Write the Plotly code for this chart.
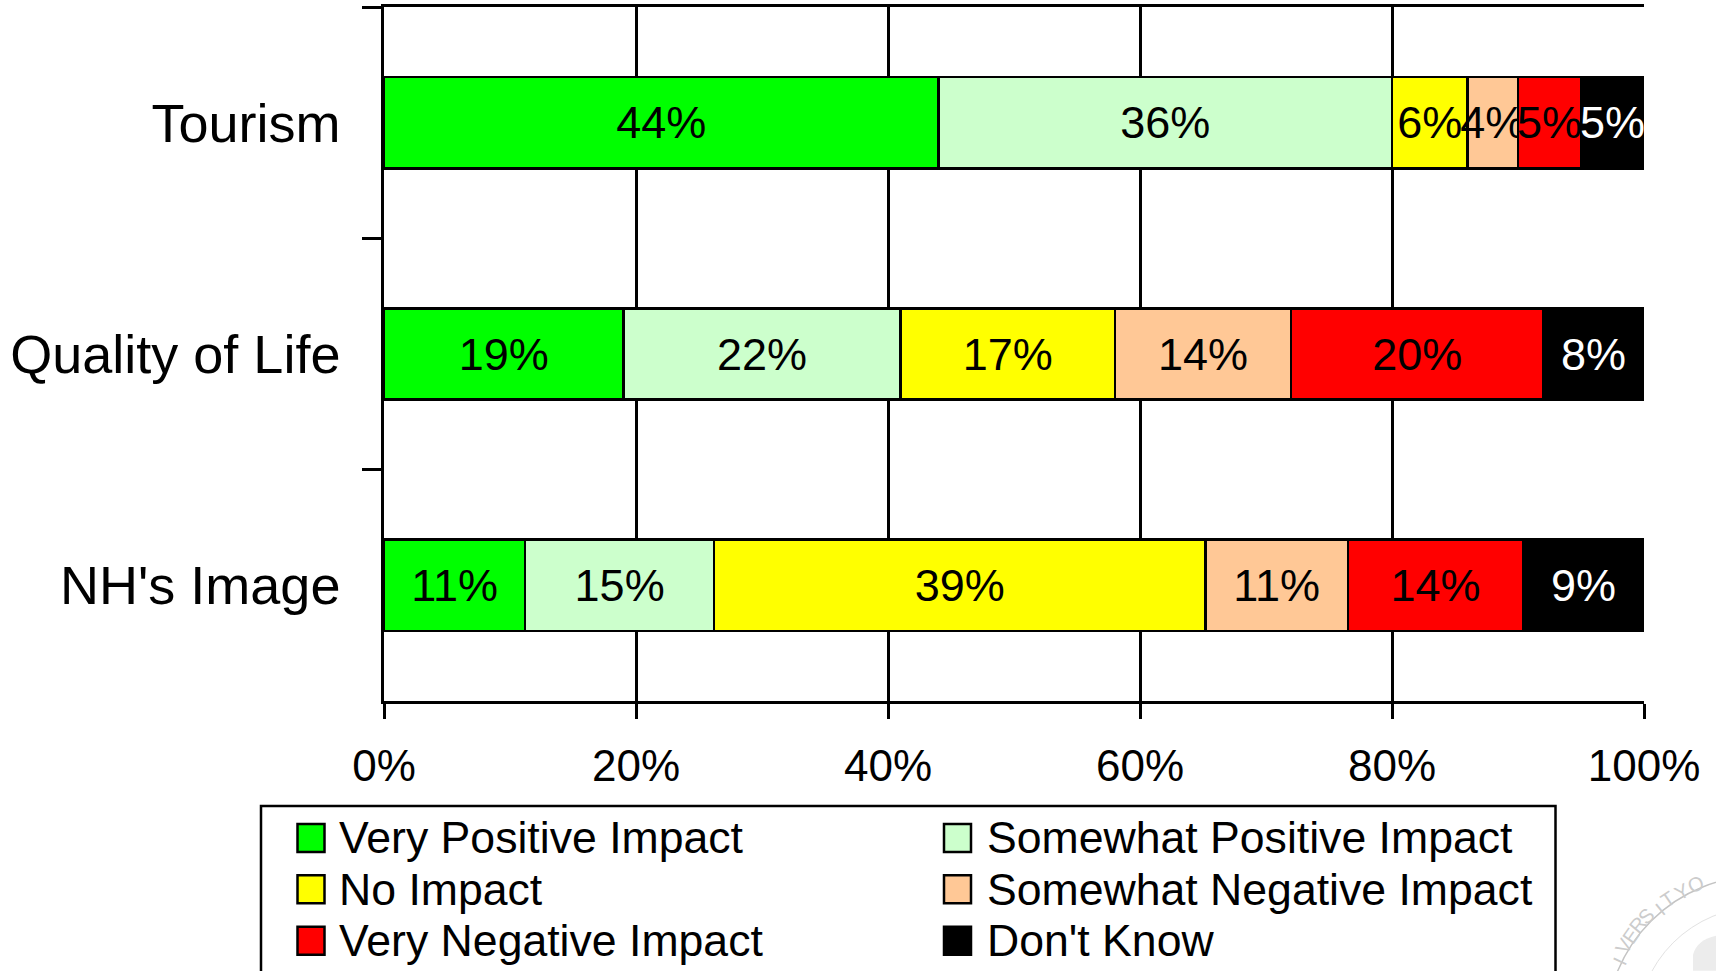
import math
import plotly.graph_objects as go

categories = ["Tourism", "Quality of Life", "NH's Image"]
series_names = ["Very Positive Impact", "Somewhat Positive Impact", "No Impact",
                "Somewhat Negative Impact", "Very Negative Impact", "Don't Know"]
very_positive = [44, 19, 11.2]
somewhat_positive = [36, 22, 15]
no_impact = [6, 17, 39]
somewhat_negative = [4, 14, 11.3]
very_negative = [5, 20, 13.9]
dont_know = [5, 8, 9.6]
very_positive_labels = ["44%", "19%", "11%"]
somewhat_positive_labels = ["36%", "22%", "15%"]
no_impact_labels = ["6%", "17%", "39%"]
somewhat_negative_labels = ["4%", "14%", "11%"]
very_negative_labels = ["5%", "20%", "14%"]
dont_know_labels = ["5%", "8%", "9%"]
x_ticks = [0, 20, 40, 60, 80, 100]
x_tick_labels = ["0%", "20%", "40%", "60%", "80%", "100%"]
colors = ["#00FF00", "#CCFFCC", "#FFFF00", "#FFC896", "#FF0000", "#000000"]
text_colors = ["black", "black", "black", "black", "black", "white"]
seal_letters = ["I", "V", "E", "R", "S", "I", "T", "Y", "O"]
seal_angles = [65, 60, 55, 50, 45, 39, 34, 28, 21]

W, H = 1716, 971
L, R, T, B = 384, 1644, 6.5, 701
FONT = "Liberation Sans"

def px(x):
    return (x - L) / (R - L)

def py(y):
    return (B - y) / (B - T)

values = [very_positive, somewhat_positive, no_impact, somewhat_negative, very_negative, dont_know]
labels = [very_positive_labels, somewhat_positive_labels, no_impact_labels,
          somewhat_negative_labels, very_negative_labels, dont_know_labels]

fig = go.Figure()
for name, vals, labs, col, tc in zip(series_names, values, labels, colors, text_colors):
    fig.add_trace(go.Bar(
        y=categories, x=vals, name=name, orientation="h", text=labs,
        textposition="inside", insidetextanchor="middle", textangle=0, constraintext="none",
        cliponaxis=False,
        textfont=dict(family=FONT, size=45, color=tc),
        marker=dict(color=col, line=dict(color="black", width=2.5)),
        showlegend=False, hoverinfo="skip"))

shapes = [dict(type="rect", xref="paper", yref="paper",
               x0=px(261), x1=px(1555.5), y0=py(1000), y1=py(806),
               line=dict(color="black", width=2.5), fillcolor="white")]
annotations = []
col_x = [297.5, 944]
row_y = [838, 889.5, 941]
for i, (name, col) in enumerate(zip(series_names, colors)):
    sx, sy = col_x[i % 2], row_y[i // 2]
    shapes.append(dict(type="rect", xref="paper", yref="paper",
                       x0=px(sx), x1=px(sx + 27), y0=py(sy + 14), y1=py(sy - 14),
                       line=dict(color="black", width=2.5), fillcolor=col))
    annotations.append(dict(xref="paper", yref="paper", text=name, showarrow=False,
                            x=px(sx + 39 + (1.5 if i % 2 else 0)), y=py(sy),
                            xanchor="left", yanchor="middle",
                            font=dict(family=FONT, size=44.6, color="black")))

# faint university seal in the lower right corner
cx, cy = 1760, 1030
for rad, width, color in [(154, 1.5, "#c4c4c4"), (123, 1, "#e2e2e2")]:
    shapes.append(dict(type="circle", xref="paper", yref="paper",
                       x0=px(cx - rad), x1=px(cx + rad), y0=py(cy + rad), y1=py(cy - rad),
                       line=dict(color=color, width=width)))
shapes.append(dict(type="path", xref="paper", yref="paper", line=dict(width=0), fillcolor="#ececec",
                   path=f"M {px(1693)} {py(971)} L {px(1693)} {py(955)} Q {px(1697)} {py(940)} {px(1716)} {py(936)} L {px(1716)} {py(971)} Z"))
for letter, ang in zip(seal_letters, seal_angles):
    a = math.radians(ang)
    annotations.append(dict(xref="paper", yref="paper", text=letter, showarrow=False,
                            x=px(cx - 139 * math.sin(a)), y=py(cy - 139 * math.cos(a)),
                            textangle=-ang, font=dict(family=FONT, size=20, color="#cccccc")))

fig.update_layout(
    width=W, height=H, barmode="stack", bargap=0.605,
    paper_bgcolor="white", plot_bgcolor="white", showlegend=False,
    margin=dict(l=L, r=W - R, t=T, b=H - B, autoexpand=False),
    font=dict(family=FONT, color="black"),
    shapes=shapes, annotations=annotations,
    xaxis=dict(range=[0, 100], tickvals=x_ticks, ticktext=x_tick_labels,
               showgrid=True, gridcolor="black", gridwidth=2.5, zeroline=False,
               showline=True, linecolor="black", linewidth=2.5, mirror=True,
               ticks="outside", ticklen=15, tickwidth=2.5, tickcolor="black",
               ticklabelstandoff=9, tickfont=dict(family=FONT, size=44, color="black")),
    yaxis=dict(autorange="reversed", tickson="boundaries", ticks="outside", ticklen=19,
               tickwidth=2.5, tickcolor="black", showgrid=False, zeroline=False,
               showline=True, linecolor="black", linewidth=2.5,
               ticklabelstandoff=30, tickfont=dict(family=FONT, size=54, color="black")),
)
fig.write_html("out.html", config={"displayModeBar": False},
               post_script="document.body.style.margin='0';document.body.style.overflow='hidden';")
